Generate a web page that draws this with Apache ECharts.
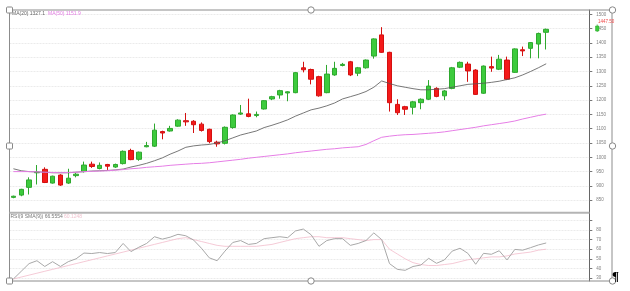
<!DOCTYPE html>
<html><head><meta charset="utf-8">
<script src="https://cdn.jsdelivr.net/npm/echarts@6/dist/echarts.min.js"></script>
<style>html,body{margin:0;padding:0;background:#fff;}#c{width:630px;height:291px;}</style>
</head><body><div id="c"></div>
<script>
// 74 slots on the time axis (last 5 are empty space on the right)
const categories = Array.from({length: 74}, (_, i) => 'P' + (i + 1));

const opens  = [860,868,895,946,958,910,938,910,936,950,976,961,975,966,978,1024,993,1037,1039,1090,1092,1109,1128,1126,1116,1098,1053,1049,1104,1151,1152,1146,1169,1204,1218,1225,1226,1313,1307,1282,1226,1288,1321,1334,1294,1313,1354,1428,1367,1185,1177,1175,1191,1203,1241,1215,1241,1315,1326,1305,1224,1317,1308,1340,1297,1376,1381,1396,1437];
const closes = [864,888,921,948,912,934,903,927,941,973,968,972,969,975,1021,992,1018,1041,1095,1085,1101,1130,1124,1114,1094,1055,1047,1105,1148,1155,1143,1150,1198,1212,1233,1229,1296,1306,1273,1215,1291,1311,1325,1288,1313,1340,1414,1367,1191,1156,1168,1194,1203,1249,1213,1232,1313,1332,1302,1220,1319,1312,1343,1273,1379,1372,1401,1433,1447.5];
const lows   = [857,864,870,905,910,908,900,907,930,947,963,958,956,963,975,990,988,1035,1036,1063,1090,1107,1110,1085,1090,1049,1037,1045,1100,1148,1140,1140,1167,1200,1205,1196,1224,1297,1255,1212,1224,1285,1318,1284,1284,1310,1345,1365,1160,1148,1148,1150,1168,1200,1210,1200,1238,1312,1264,1218,1222,1299,1305,1270,1295,1354,1346,1346,1377];
const highs  = [866,890,930,973,965,936,941,960,945,985,985,982,977,978,1024,1030,1020,1054,1118,1093,1110,1133,1155,1130,1122,1100,1058,1108,1150,1183,1205,1160,1200,1215,1236,1231,1298,1334,1310,1285,1323,1334,1330,1337,1316,1342,1416,1455,1369,1203,1180,1197,1206,1270,1245,1235,1316,1335,1334,1308,1321,1352,1358,1352,1381,1387,1403,1436,1450];

const ma20 = [960,953,950,949,948,946,946,946,948,950,952,953,954,956,959,966,972,979,988,998,1011,1022,1035,1040,1043,1045,1050,1058,1068,1078,1085,1092,1104,1112,1121,1131,1144,1155,1166,1172,1180,1190,1204,1212,1220,1230,1245,1267,1258,1250,1245,1240,1236,1236,1238,1240,1245,1250,1255,1257,1259,1262,1266,1272,1278,1288,1300,1313,1327];
const ma50 = [950,950,950,949,948,947,946,947,948,950,951,952,953,955,957,960,962,965,967,969,972,974,976,978,979,981,984,987,990,993,997,1000,1003,1006,1009,1012,1016,1019,1022,1025,1028,1030,1033,1035,1037,1045,1058,1070,1074,1077,1079,1080,1082,1084,1086,1089,1093,1097,1101,1105,1110,1114,1118,1122,1127,1134,1140,1146,1151];

const rsi = [29,37,45,48,42,47,42,47,50,56,55.5,56.5,55.5,56.5,66,57.5,62,66,73,70.5,72.5,75.5,74,69.5,61,51,48,58,67,69,65,66,71,72,73,72,79,81,75,63,69,71,71,64,66,69,77,70,45,39,38,42,43.5,50.5,45.3,48.8,58,61,55.7,44.3,55.7,54.7,58.4,48.8,59.8,59,61.6,64.4,66.5];
const rsiSignal = [29,31,33,35,37,39,41,43,45,47,49,51,53,55,57,59,61,63,65,67,69,71,72,70,68,66,64,63,63,63,63,63,64,65,67,69,71,72,73,73,72,72,72,71,70,69,70,70,60,55,50,46,44,43,43,44,45,47,49,50,51,52,52,53,55,56,57,59,60];

const priceTicks = [850,900,950,1000,1050,1100,1150,1200,1250,1300,1350,1400,1450,1500];
const rsiTicks = [30,40,50,60,70,80,90];
const rsiLabels = [30,40,50,60,70,80];
const lastPrice = '1447.50';
const maText = 'MA(20) 1327.1';
const ma50Text = 'MA(50) 1151.9';
const rsiText = 'RSI(9 SMA(9)) 66.5554';
const rsiSigText = '60.1248';

const candles = opens.map((o, i) => [o, closes[i], lows[i], highs[i]]);
const chart = echarts.init(document.getElementById('c'), null, {renderer: 'canvas'});

function handle(x, y, square) {
  if (square) {
    return {type: 'rect', shape: {x: x - 3, y: y - 3, width: 6, height: 6, r: 1}, style: {fill: '#fff', stroke: '#888', lineWidth: 1}, z: 100};
  }
  return {type: 'circle', shape: {cx: x, cy: y, r: 3.2}, style: {fill: '#fff', stroke: '#888', lineWidth: 1}, z: 100};
}

const axisCommon = {
  type: 'value', position: 'right', scale: true,
  axisLine: {show: true, lineStyle: {color: '#666', width: 1}},
  axisTick: {show: true, length: 3, lineStyle: {color: '#777'}},
  axisLabel: {fontSize: 4.5, color: '#808080', margin: 7, fontFamily: 'Liberation Sans', formatter: (v) => String(v)},
  splitLine: {show: true, lineStyle: {color: '#ebebeb', width: 1, type: [2, 1]}}
};

chart.setOption({
  animation: false,
  grid: [
    {left: 9.5, right: 40.7, top: 10, height: 203.1},
    {left: 9.5, right: 40.7, top: 213, height: 68}
  ],
  xAxis: [
    {type: 'category', data: categories, gridIndex: 0, show: false, boundaryGap: true},
    {type: 'category', data: categories, gridIndex: 1, show: false, boundaryGap: true}
  ],
  yAxis: [
    Object.assign({}, axisCommon, {gridIndex: 0, min: 805, max: 1515,
      axisTick: Object.assign({}, axisCommon.axisTick, {customValues: priceTicks}),
      axisLabel: Object.assign({}, axisCommon.axisLabel, {customValues: priceTicks})}),
    Object.assign({}, axisCommon, {gridIndex: 1, min: 26.875, max: 97.71,
      axisTick: Object.assign({}, axisCommon.axisTick, {customValues: rsiTicks}),
      axisLabel: Object.assign({}, axisCommon.axisLabel, {customValues: rsiLabels})})
  ],
  series: [
    {type: 'candlestick', xAxisIndex: 0, yAxisIndex: 0, data: candles, barWidth: 5,
      itemStyle: {color: '#3dcb3d', color0: '#f41a1a', borderColor: '#2ea82e', borderColor0: '#d41010', borderWidth: 1}},
    {type: 'line', xAxisIndex: 0, yAxisIndex: 0, data: ma20, showSymbol: false, symbol: 'none',
      lineStyle: {color: '#555', width: 0.8}},
    {type: 'line', xAxisIndex: 0, yAxisIndex: 0, data: ma50, showSymbol: false, symbol: 'none',
      lineStyle: {color: '#e67ee6', width: 1}},
    {type: 'line', xAxisIndex: 1, yAxisIndex: 1, data: rsiSignal, showSymbol: false, symbol: 'none',
      lineStyle: {color: '#f2bccb', width: 0.8}},
    {type: 'line', xAxisIndex: 1, yAxisIndex: 1, data: rsi, showSymbol: false, symbol: 'none',
      lineStyle: {color: '#a8a8a8', width: 1}}
  ],
  graphic: [
    {type: 'rect', shape: {x: 9.5, y: 10, width: 602.5, height: 271}, style: {fill: 'none', stroke: '#8c8c8c', lineWidth: 1}, z: 50},
    {type: 'line', shape: {x1: 9.5, y1: 212.8, x2: 589.5, y2: 212.8}, style: {stroke: '#b4b4b4', lineWidth: 2}, z: 50},
    {type: 'text', x: 12, y: 11.5, style: {text: maText, fontSize: 5, fill: '#666', fontFamily: 'Liberation Sans'}, z: 60},
    {type: 'text', x: 48, y: 11.5, style: {text: ma50Text, fontSize: 5, fill: '#e27ae2', fontFamily: 'Liberation Sans'}, z: 60},
    {type: 'text', x: 10.5, y: 213.8, style: {text: rsiText, fontSize: 5, fill: '#777', fontFamily: 'Liberation Sans'}, z: 60},
    {type: 'text', x: 64, y: 213.8, style: {text: rsiSigText, fontSize: 5, fill: '#f0c4d0', fontFamily: 'Liberation Sans'}, z: 60},
    {type: 'text', x: 598, y: 19.5, style: {text: lastPrice, fontSize: 4.5, fill: '#f04848', fontFamily: 'Liberation Sans'}, z: 60},
    {type: 'line', shape: {x1: 597.2, y1: 24.5, x2: 597.2, y2: 32}, style: {stroke: '#2ea82e', lineWidth: 0.8}, z: 60},
    {type: 'rect', shape: {x: 595.5, y: 26, width: 3.5, height: 5}, style: {fill: '#3dcb3d', stroke: '#2ea82e', lineWidth: 0.5}, z: 61},
    handle(9.5, 10, true), handle(311, 10, false), handle(612.5, 10, false),
    handle(9.5, 146, true), handle(612.5, 146, false),
    handle(9.5, 281, true), handle(311, 281, false), handle(612.5, 281, false),
    {type: 'text', x: 612, y: 270, style: {text: '¶', fontSize: 13, fontWeight: 'bold', fill: '#000', fontFamily: 'Liberation Serif'}, z: 120}
  ]
});
</script></body></html>
